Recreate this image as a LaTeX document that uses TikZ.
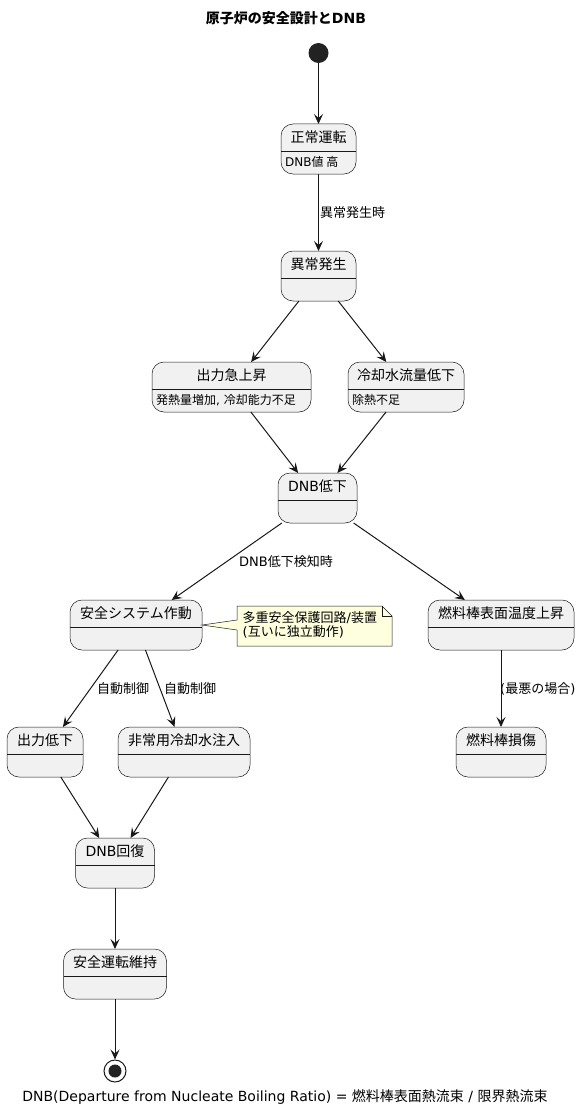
\documentclass[tikz,border=0pt]{standalone}
\usepackage{fontspec}
\setmainfont{DejaVu Sans}
\newfontfamily\jp{Noto Sans CJK JP}
\usetikzlibrary{arrows.meta}
\definecolor{ln}{HTML}{181818}
\definecolor{stfill}{HTML}{F1F1F1}
\definecolor{notefill}{HTML}{FEFFDD}
\definecolor{dot}{HTML}{222222}
\newcommand\fs[1]{\fontsize{#1}{#1}\selectfont}
\newcommand\stbox[7]{%
  \node[stt, minimum width={(#4)-(#2)}, minimum height={(#5)-(#3)}] (#1) at ({((#2)+(#4))/2},{((#3)+(#5))/2}) {};
  \draw[divl] (#2,#3+27) -- (#4,#3+27);
  \node[hdr] (#1t) at ({((#2)+(#4))/2},#3+13.5) {#6};
  \node[bdy] (#1b) at (#2+4,#3+38) {#7};
}
\begin{document}
\begin{tikzpicture}[x=1pt,y=-1pt,
  stt/.style={draw=ln, fill=stfill, line width=0.5pt, rounded corners=12pt, inner sep=0pt, outer sep=0pt},
  divl/.style={draw=ln, line width=0.5pt},
  hdr/.style={inner sep=0pt, font=\fs{14}, text=black},
  bdy/.style={inner sep=0pt, font=\fs{12}, anchor=west, text=black},
  lbl/.style={inner sep=0pt, font=\fs{13}, anchor=west, text=black},
  notest/.style={draw=ln, fill=notefill, line width=0.5pt, line join=miter},
  arr/.style={draw=ln, line width=1pt, -{Stealth[length=10pt,width=9pt,inset=4pt]}},
]
\useasboundingbox (0,0) rectangle (584,1113);

\node[inner sep=0pt, font=\bfseries\fs{14}] (title) at (286,18) {{\jp 原子炉の安全設計と}DNB};

\node[circle, fill=dot, minimum size=20pt, inner sep=0pt] (start) at (318.5,53) {};

\stbox{s1}{281}{124}{356}{174}{{\jp 正常運転}}{DNB{\jp 値 高}}
\stbox{s2}{281}{251}{356}{301}{{\jp 異常発生}}{}
\stbox{s3}{152}{362}{311}{412}{{\jp 出力急上昇}}{{\jp 発熱量増加}, {\jp 冷却能力不足}}
\stbox{s4}{348}{362}{464}{412}{{\jp 冷却水流量低下}}{{\jp 除熱不足}}
\stbox{s5}{278}{473}{357}{523}{DNB{\jp 低下}}{}
\stbox{s6}{70}{600}{202}{650}{{\jp 安全システム作動}}{}
\stbox{s7}{428}{600}{574}{650}{{\jp 燃料棒表面温度上昇}}{}
\stbox{s8}{7}{727}{83}{777}{{\jp 出力低下}}{}
\stbox{s9}{118}{727}{250}{777}{{\jp 非常用冷却水注入}}{}
\stbox{s10}{456}{727}{546}{777}{{\jp 燃料棒損傷}}{}
\stbox{s11}{75.5}{838}{154.5}{888}{DNB{\jp 回復}}{}
\stbox{s12}{63.5}{949}{166.5}{999}{{\jp 安全運転維持}}{}

\node[circle, draw=ln, line width=1pt, fill=white, minimum size=22pt, inner sep=0pt] (end) at (115,1071) {};
\node[circle, fill=dot, minimum size=13pt, inner sep=0pt] (endin) at (115,1071) {};

% note
\node[inner sep=0pt, minimum width=155pt, minimum height=40pt] (note) at (314.5,626) {};
\draw[notest] (s6.east) -- (237,620) -- (237,606) -- (382,606) -- (392,616) -- (392,646) -- (237,646) -- (237,630) -- cycle;
\draw[notest, fill=none] (382,606) -- (382,616) -- (392,616);
\node[inner sep=0pt, anchor=west, align=left, font=\fontsize{13}{14.5}\selectfont] (notetext) at (242.5,625) {{\jp 多重安全保護回路}/{\jp 装置}\\({\jp 互いに独立動作})};

% connectors
\draw[arr] (start) -- (s1);
\draw[arr] (s1) -- (s2);
\draw[arr] (s2) -- (s3);
\draw[arr] (s2) -- (s4);
\draw[arr] (s3) -- (s5);
\draw[arr] (s4) -- (s5);
\draw[arr] (s5) -- (s6);
\draw[arr] (s5) -- (s7);
\draw[arr] (s6) -- (s8);
\draw[arr] (s6) -- (s9);
\draw[arr] (s7) -- (s10);
\draw[arr] (s8) -- (s11);
\draw[arr] (s9) -- (s11);
\draw[arr] (s11) -- (s12);
\draw[arr] (s12) -- (end);

% labels
\node[lbl] (l1) at (320,213) {{\jp 異常発生時}};
\node[lbl] (l2) at (239,562) {DNB{\jp 低下検知時}};
\node[lbl] (l3) at (97,689) {{\jp 自動制御}};
\node[lbl] (l4) at (164,689) {{\jp 自動制御}};
\node[lbl] (l5) at (500,689) {({\jp 最悪の場合})};

\node[inner sep=0pt, font=\fs{14}, text=black] (footer) at (285,1097) {DNB(Departure from Nucleate Boiling Ratio) = {\jp 燃料棒表面熱流束} / {\jp 限界熱流束}};
\end{tikzpicture}
\end{document}
